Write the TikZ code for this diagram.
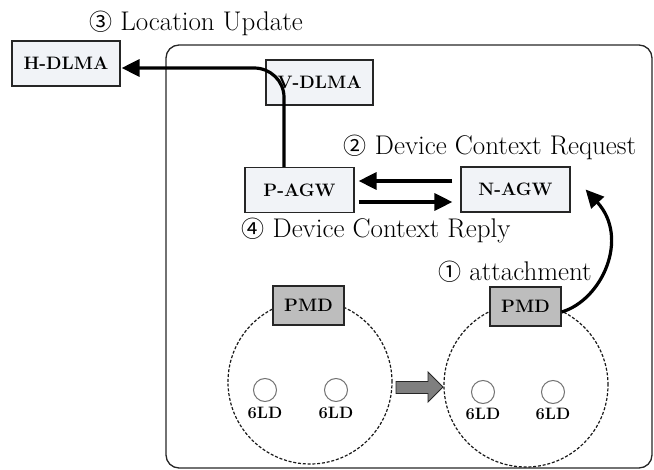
\documentclass[tikz,border=0pt]{standalone}
\usepackage{fontspec}
\newfontfamily\symf{Noto Sans CJK SC}
\usetikzlibrary{arrows.meta,calc}
\definecolor{boxfill}{HTML}{F1F3F7}
\definecolor{pmdfill}{HTML}{BDBDBD}
\definecolor{bigarrow}{HTML}{7F7F7F}
\newcommand{\cnum}[1]{{\symf\fontsize{23}{26}\selectfont #1}}
\begin{document}
\begin{tikzpicture}[x=1pt,y=-1pt,
  box/.style={draw=black!85,line width=1.2pt,fill=boxfill,inner sep=0pt,
    font=\fontsize{18}{21}\selectfont\bfseries},
  pmdbox/.style={box,fill=pmdfill},
  zone/.style={draw=black!90,line width=1.2pt,dash pattern=on 3pt off 1.8pt},
  dev/.style={draw=black!55,line width=1pt,fill=white},
  devlabel/.style={font=\fontsize{16.5}{18}\selectfont\bfseries,inner sep=0pt},
  lbl/.style={font=\fontsize{27}{30}\selectfont,inner sep=0pt},
  conn/.style={line width=3.2pt,-{Triangle[length=18pt,width=17pt]}},
]
\useasboundingbox (0,0) rectangle (654,470);
% outer domain
\draw[line width=1.3pt,draw=black!85,rounded corners=13pt] (166,45) rectangle (652,468);

% zones
\node[zone,circle,minimum size=164pt,inner sep=0pt] (z1) at (310,382) {};
\node[zone,circle,minimum size=164pt,inner sep=0pt] (z2) at (526,385) {};

% boxes
\node[box,minimum width=108pt,minimum height=45pt] (hdlma) at (66,63.5) {H-DLMA};
\node[box,minimum width=107pt,minimum height=45pt] (vdlma) at (319.5,82.5) {V-DLMA};
\node[box,minimum width=109pt,minimum height=45pt] (pagw) at (299.5,190) {P-AGW};
\node[box,minimum width=109pt,minimum height=45pt] (nagw) at (515.5,189.5) {N-AGW};
\node[pmdbox,minimum width=71pt,minimum height=39pt] (pmd1) at (308.5,305.5) {PMD};
\node[pmdbox,minimum width=71pt,minimum height=39pt] (pmd2) at (525.5,306.5) {PMD};

% devices
\node[dev,circle,minimum size=23pt,inner sep=0pt] (d1) at (265,390) {};
\node[dev,circle,minimum size=23pt,inner sep=0pt] (d2) at (336,390) {};
\node[dev,circle,minimum size=23pt,inner sep=0pt] (d3) at (483,392) {};
\node[dev,circle,minimum size=23pt,inner sep=0pt] (d4) at (553,392) {};
\node[devlabel] (l1) at (265,413) {6LD};
\node[devlabel] (l2) at (336,413) {6LD};
\node[devlabel] (l3) at (483,414) {6LD};
\node[devlabel] (l4) at (553,414) {6LD};

% movement arrow
\draw[draw=black!85,line width=0.9pt,fill=bigarrow]
  (396,381.5) -- (428,381.5) -- (428,372) -- (443,387) -- (428,402) -- (428,393.5) -- (396,393.5) -- cycle;

% connectors
\draw[conn] ([xshift=-15.5pt]pagw.north) -- ++(0,-69.5)
  .. controls ++(0,-16.5) and (270.5,68) .. (254,68) -- ([yshift=-4.5pt,xshift=1pt]hdlma.east);
\draw[conn] ([xshift=-8pt,yshift=8.5pt]nagw.west) -- ([xshift=4pt,yshift=9pt]pagw.east);
\draw[conn] ([xshift=4pt,yshift=-12pt]pagw.east) -- ([xshift=-8pt,yshift=-12.5pt]nagw.west);
\coordinate (att) at ([xshift=15pt,yshift=0pt]nagw.east);
\draw[conn] ([yshift=-5.5pt]pmd2.east) .. controls (602,300) and (630,238) .. (att);

% labels
\node[lbl] (t3) at (196,23) {\cnum{③} Location Update};
\node[lbl] (t2) at (490,147) {\cnum{②} Device Context Request};
\node[lbl] (t4) at (376,231) {\cnum{④} Device Context Reply};
\node[lbl] (t1) at (515,272) {\cnum{①} attachment};
\end{tikzpicture}
\end{document}
